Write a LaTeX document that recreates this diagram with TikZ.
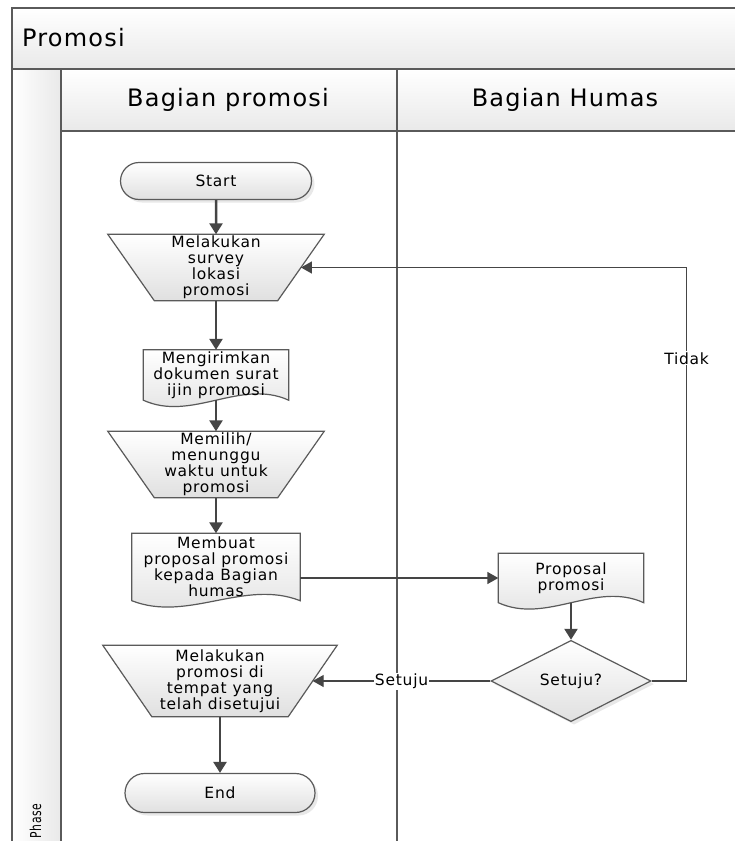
\documentclass[tikz,border=0pt]{standalone}
\usepackage{fontspec}
\setmainfont[LetterSpace=5]{DejaVu Sans}
\usetikzlibrary{arrows.meta,shapes.geometric,shapes.misc,shadows,backgrounds,calc}

\definecolor{lanegray}{HTML}{5A5A5A}
\definecolor{arrowgray}{HTML}{454545}
\definecolor{headgray}{HTML}{E9E9E9}
\definecolor{boxgray}{HTML}{E0E0E0}

\tikzset{
  symline/.style={draw=lanegray, line width=1.2pt, top color=white, bottom color=boxgray},
  symshadow/.style={black, opacity=0.15, shift={(3pt,-3pt)}}
}

% document symbol (wavy bottom) behind a named node
\newcommand{\docsymbol}[1]{%
  \foreach \sty in {symshadow,symline}
    \path[\sty] (#1.north west) -- (#1.north east) -- (#1.south east)
      .. controls ($(#1.south west)!0.667!(#1.south east)+(0,-22)$) and ($(#1.south west)!0.333!(#1.south east)+(0,22)$) .. (#1.south west) -- cycle;
}
% manual operation symbol: node width is the mid width, #2 = quarter of the width difference
\newcommand{\manualsymbol}[2]{%
  \foreach \sty in {symshadow,symline}
    \path[\sty] ($(#1.north west)+(-#2,0)$) -- ($(#1.north east)+(#2,0)$)
      -- ($(#1.south east)+(-#2,0)$) -- ($(#1.south west)+(#2,0)$) -- cycle;
}

\begin{document}
\begin{tikzpicture}[x=1pt, y=-1pt,
  every node/.style={font=\fontsize{15.5}{16}\selectfont, align=center, inner sep=1pt},
  box/.style={draw=lanegray, line width=1.2pt, top color=white, bottom color=boxgray,
    drop shadow={opacity=0.18, shadow xshift=3pt, shadow yshift=-3pt}},
  term/.style={box, shape=rounded rectangle, minimum width=193pt, minimum height=37pt},
  manual/.style={rectangle, minimum height=66pt},
  doc/.style={rectangle, minimum width=145pt},
  decide/.style={box, shape=diamond, minimum width=160pt, minimum height=78pt},
  flow/.style={draw=arrowgray, line width=2.5pt, -{Triangle[length=11pt,width=13pt]}},
  link/.style={draw=arrowgray, line width=1.4pt, -{Triangle[length=11pt,width=12pt]}},
  lbl/.style={fill=white, inner sep=1pt},
  head/.style={font=\fontsize{24}{26}\selectfont}
]
\useasboundingbox (0,0) rectangle (734,841);

% pool and lanes
\begin{scope}[on background layer]
  \fill[white] (0,0) rectangle (734,841);
  \fill[top color=white, bottom color=headgray] (12,8) rectangle (735,69);
  \fill[left color=white, right color=headgray] (12,69) rectangle (61,842);
  \fill[top color=white, bottom color=headgray] (61,69) rectangle (735,131);
  \draw[lanegray, line width=1.5pt] (735,8) -- (12,8) -- (12,842);
  \draw[lanegray, line width=1.5pt] (12,69) -- (735,69);
  \draw[lanegray, line width=1.5pt] (61,69) -- (61,842);
  \draw[lanegray, line width=1.5pt] (61,131) -- (735,131);
  \draw[lanegray, line width=1.5pt] (397,69) -- (397,842);
\end{scope}

\node[head, anchor=west] (title) at (21,38) {Promosi};
\node[head] (lanepromo) at (228,100) {Bagian promosi};
\node[head] (lanehumas) at (565,100) {Bagian Humas};
\node[rotate=90, font=\fontsize{15}{15}\selectfont] (phase) at (35.5,821) {\scalebox{0.72}[1]{Phase}};

% steps
\node[term] (start) at (216,181) {Start};
\node[manual, minimum width=169.5pt] (survey) at (216,267.5) {Melakukan\\survey\\lokasi\\promosi};
\node[doc, minimum height=50pt] (kirim) at (216,375) {Mengirimkan\\dokumen surat\\ijin promosi};
\node[manual, minimum width=169.5pt] (pilih) at (216,464.5) {Memilih/\\menunggu\\waktu untuk\\promosi};
\node[doc, minimum width=168pt, minimum height=67pt] (buat) at (216,567) {Membuat\\proposal promosi\\kepada Bagian\\humas};
\node[doc, minimum height=49pt] (prop) at (571,578) {Proposal\\promosi};
\node[decide] (cek) at (571,681) {Setuju?};
\node[manual, minimum width=185pt, minimum height=71pt] (lakukan) at (220,681) {Melakukan\\promosi di\\tempat yang\\telah disetujui};
\node[term, minimum width=192pt, minimum height=39pt] (stop) at (220,793) {End};

\begin{scope}[on background layer]
  \manualsymbol{survey}{23.25}
  \manualsymbol{pilih}{23.25}
  \manualsymbol{lakukan}{24.5}
  \docsymbol{kirim}
  \docsymbol{buat}
  \docsymbol{prop}
\end{scope}

% connectors
\draw[flow] (start) -- (survey);
\draw[flow] (survey) -- (kirim);
\draw[flow] (kirim) -- (pilih);
\draw[flow] (pilih) -- (buat);
\draw[link] (prop.west -| buat.east) -- (prop);
\draw[flow] (prop) -- (cek);
\draw[link] (cek) -- node[lbl] {Setuju} (lakukan);
\draw[link] (cek.east) -- ++(35,0) |- node[lbl, pos=0.39] {Tidak} (survey);
\draw[flow] (lakukan) -- (stop);
\end{tikzpicture}
\end{document}
